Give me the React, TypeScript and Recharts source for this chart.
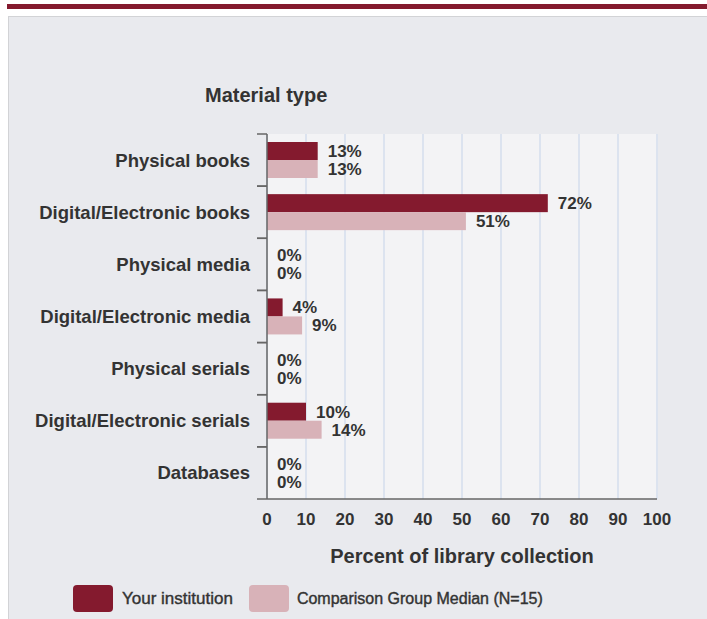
import React from 'react';
import { BarChart, Bar, XAxis, YAxis, CartesianGrid, LabelList, Label } from 'recharts';

const categories = [
  'Physical books',
  'Digital/Electronic books',
  'Physical media',
  'Digital/Electronic media',
  'Physical serials',
  'Digital/Electronic serials',
  'Databases',
];
const yourInstitution = [13, 72, 0, 4, 0, 10, 0];
const comparisonMedian = [13, 51, 0, 9, 0, 14, 0];
const xTicks = [0, 10, 20, 30, 40, 50, 60, 70, 80, 90, 100];

const RED = '#841a2e';
const PINK = '#d8b2b8';
const TEXT = '#333333';
const FONT = '"Liberation Sans", Arial, sans-serif';

const data = categories.map((name, i) => ({
  name,
  yours: yourInstitution[i],
  median: comparisonMedian[i],
}));

function CategoryTick(props: any) {
  const { x, y, payload } = props;
  const off = payload.offset || 0;
  return (
    <g>
      <line x1={x + 7} x2={x + 17} y1={y - off} y2={y - off} stroke="#666" strokeWidth={1.5} />
      <line x1={x + 7} x2={x + 17} y1={y + off} y2={y + off} stroke="#666" strokeWidth={1.5} />
      <text x={x} y={y} dy="0.35em" textAnchor="end" fill={TEXT} fontSize={18.5} fontWeight="bold" fontFamily={FONT}>
        {payload.value}
      </text>
    </g>
  );
}

// zero bars get minPointSize so recharts keeps them (and their labels); draw them with no width
function BarShape(props: any) {
  const { x, y, width, height, fill, value } = props;
  const v = Array.isArray(value) ? value[1] - value[0] : value;
  if (!v) return null;
  return <rect x={x} y={y} width={width} height={height} fill={fill} />;
}

function ValueLabel(props: any) {
  const { x, y, width, height, value } = props;
  const v = Number(value) || 0;
  const w = v === 0 ? 0 : Number(width || 0);
  return (
    <text
      x={Number(x) + w + 10}
      y={Number(y) + Number(height) / 2}
      dy="0.35em"
      fill={TEXT}
      fontSize={17}
      fontWeight="bold"
      fontFamily={FONT}
    >
      {`${v}%`}
    </text>
  );
}

export default function App() {
  return (
    <div style={{ position: 'absolute', left: 0, top: 0, width: 707, height: 619, background: '#fff', fontFamily: FONT }}>
      <div style={{ position: 'absolute', left: 7, top: 4, width: 700, height: 5, background: RED }} />
      <div
        style={{
          position: 'absolute',
          left: 8,
          top: 16,
          width: 699,
          height: 603,
          background: '#e9eaee',
          borderLeft: '1px solid #d2d3d6',
          borderTop: '1px solid #d2d3d6',
        }}
      />
      <div
        style={{
          position: 'absolute',
          left: 205,
          top: 84,
          fontSize: 20,
          fontWeight: 'bold',
          color: TEXT,
        }}
      >
        Material type
      </div>
      <div style={{ position: 'absolute', left: 0, top: 0 }}>
        <BarChart
          width={707}
          height={619}
          data={data}
          layout="vertical"
          margin={{ top: 134, right: 50, bottom: 50, left: 0 }}
          barGap={0}
          barSize={18}
        >
          <CartesianGrid horizontal={false} fill="#f3f3f5" stroke="#dce3ef" strokeWidth={2} />
          <XAxis
            type="number"
            domain={[0, 100]}
            ticks={xTicks}
            tickLine={false}
            tickSize={0}
            tickMargin={14}
            height={70}
            axisLine={{ stroke: '#666', strokeWidth: 1.5 }}
            tick={{ fill: TEXT, fontSize: 17, fontWeight: 'bold', fontFamily: FONT }}
          >
            <Label
              value="Percent of library collection"
              position="insideBottom"
              offset={6}
              style={{ fill: TEXT, fontSize: 20, fontWeight: 'bold', fontFamily: FONT }}
            />
          </XAxis>
          <XAxis
            xAxisId="top"
            orientation="top"
            type="number"
            domain={[0, 100]}
            tick={false}
            tickLine={false}
            height={0}
            axisLine={{ stroke: '#cdd0d4', strokeWidth: 2 }}
          />
          <YAxis
            type="category"
            dataKey="name"
            width={267}
            tickSize={10}
            tickMargin={7}
            tickLine={{ stroke: 'none' }}
            axisLine={{ stroke: '#666', strokeWidth: 1.5 }}
            tick={<CategoryTick />}
            interval={0}
          />
          <Bar dataKey="yours" fill={RED} minPointSize={1} shape={<BarShape />} isAnimationActive={false}>
            <LabelList dataKey="yours" content={<ValueLabel />} />
          </Bar>
          <Bar dataKey="median" fill={PINK} minPointSize={1} shape={<BarShape />} isAnimationActive={false}>
            <LabelList dataKey="median" content={<ValueLabel />} />
          </Bar>
        </BarChart>
      </div>
      <div style={{ position: 'absolute', left: 73, top: 585, display: 'flex', alignItems: 'center', fontSize: 17, color: TEXT }}>
        <div style={{ width: 40, height: 27, borderRadius: 4, background: RED }} />
        <span style={{ marginLeft: 9, WebkitTextStroke: '0.4px #333' }}>Your institution</span>
        <div style={{ width: 40, height: 27, borderRadius: 4, background: PINK, marginLeft: 16 }} />
        <span style={{ marginLeft: 8, fontSize: 16, WebkitTextStroke: '0.4px #333' }}>Comparison Group Median (N=15)</span>
      </div>
    </div>
  );
}
